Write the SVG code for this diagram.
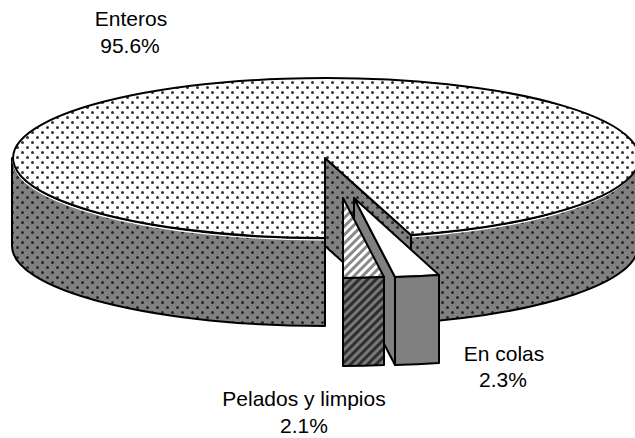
<svg xmlns="http://www.w3.org/2000/svg" width="635" height="438" viewBox="0 0 635 438">
<style>
.lbl{font-family:"Liberation Sans",Arial,sans-serif;font-size:21px;fill:#000;text-anchor:middle}
.edge{stroke:#000;stroke-width:2;stroke-linejoin:round}
.hl{fill:none;stroke:#fff;stroke-width:1.2}
</style>
<defs>
<pattern id="dotsLight" patternUnits="userSpaceOnUse" width="10" height="10">
<rect width="10" height="10" fill="#fff"/>
<circle cx="2.5" cy="2.5" r="1.5" fill="#333"/>
<circle cx="7.5" cy="7.5" r="1.5" fill="#333"/>
</pattern>
<pattern id="dotsDark" patternUnits="userSpaceOnUse" width="10" height="10">
<rect width="10" height="10" fill="#808080"/>
<circle cx="2.5" cy="2.5" r="1.5" fill="#262626"/>
<circle cx="7.5" cy="7.5" r="1.5" fill="#262626"/>
</pattern>
<pattern id="stripeLight" patternUnits="userSpaceOnUse" width="6" height="6" patternTransform="rotate(-45)">
<rect width="6" height="6" fill="#fff"/>
<rect width="6" height="3" fill="#8a8a8a"/>
</pattern>
<pattern id="stripeDark" patternUnits="userSpaceOnUse" width="6" height="6" patternTransform="rotate(-45)">
<rect width="6" height="6" fill="#787878"/>
<rect width="6" height="3" fill="#2e2e2e"/>
</pattern>
</defs>

<g id="enteros">
<path class="edge" fill="url(#dotsDark)" d="M325,158 L411,235 L411,323 L325,246 Z"/>
<path class="edge" fill="url(#dotsDark)" d="M12,158 A313,80 0 0,0 325,238 L325,326 A313,80 0 0,1 12,246 Z"/>
<path class="edge" fill="url(#dotsDark)" d="M411,235 A313,80 0 0,0 638,158 L638,246 A313,80 0 0,1 411,323 Z"/>
<path class="hl" d="M13,160 A313,80 0 0,0 324,240"/>
<path class="hl" d="M412,237 A313,80 0 0,0 637,160"/>
<path class="edge" fill="url(#dotsLight)" d="M325,158 L411,235 A313,80 0 1,0 325,238 Z"/>
</g>

<g id="en-colas">
<path class="edge" fill="#808080" d="M354,198 L395,277 L395,365 L354,286 Z"/>
<path class="edge" fill="#ffffff" d="M354,198 L395,277 A313,80 0 0,0 439,275 Z"/>
<path class="edge" fill="#808080" d="M395,277 A313,80 0 0,0 439,275 L439,363 A313,80 0 0,1 395,365 Z"/>
</g>

<g id="pelados">
<path class="edge" fill="url(#stripeLight)" d="M343,198 L343,278 A313,80 0 0,0 384,277 Z"/>
<path class="edge" fill="url(#stripeDark)" d="M343,278 A313,80 0 0,0 384,277 L384,365 A313,80 0 0,1 343,366 Z"/>
</g>

<g id="labels">
<text class="lbl" x="131" y="26">Enteros</text>
<text class="lbl" x="130" y="53">95.6%</text>
<text class="lbl" x="504" y="361">En colas</text>
<text class="lbl" x="503" y="387">2.3%</text>
<text class="lbl" x="304" y="406">Pelados y limpios</text>
<text class="lbl" x="304" y="433">2.1%</text>
</g>
</svg>
